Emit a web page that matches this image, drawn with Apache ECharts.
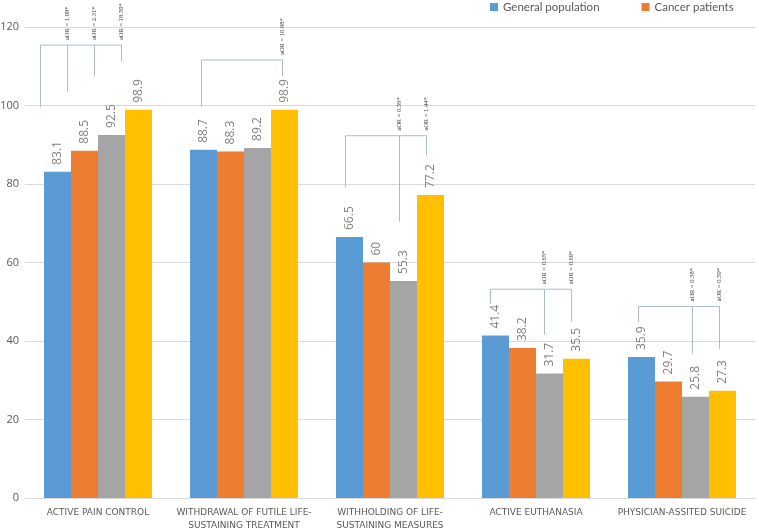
<!DOCTYPE html>
<html>
<head>
<meta charset="utf-8">
<script src="https://cdn.jsdelivr.net/npm/echarts@6/dist/echarts.min.js"></script>
<style>
  html, body { margin: 0; padding: 0; background: #fff; }
  #chart { width: 759px; height: 529px; }
</style>
</head>
<body>
<div id="chart"></div>
<script>
// categories and series
const categories = [
  'ACTIVE PAIN CONTROL',
  'WITHDRAWAL OF FUTILE LIFE-\nSUSTAINING TREATMENT',
  'WITHHOLDING OF LIFE-\nSUSTAINING MEASURES',
  'ACTIVE EUTHANASIA',
  'PHYSICIAN-ASSITED SUICIDE'
]
const seriesNames = ['General population', 'Cancer patients', 'Family caregivers', 'Physicians']
const generalPopulation = [83.1, 88.7, 66.5, 41.4, 35.9]
const cancerPatients = [88.5, 88.3, 60, 38.2, 29.7]
const familyCaregivers = [92.5, 89.2, 55.3, 31.7, 25.8]
const physicians = [98.9, 98.9, 77.2, 35.5, 27.3]
const yTicks = [0, 20, 40, 60, 80, 100, 120]

// aOR brackets: top line level, left end level, compared bars, their end levels, labels
const bracketTop = [115.4, 111.6, 92.3, 53.2, 48.8]
const bracketBase = [99.5, 99.7, 79.2, 49.5, 44.8]
const aorBars = [[1, 2, 3], [3], [2, 3], [2, 3], [2, 3]]
const aorEnds = [[103.5, 107.4, 111.2], [107.5], [70.4, 87.3], [41.6, 45], [36.7, 38]]
const aorText = [
  ['aOR = 1.98*', 'aOR = 2.31*', 'aOR = 18.59*'],
  ['aOR = 10.98*'],
  ['aOR = 0.59*', 'aOR = 1.44*'],
  ['aOR = 0.65*', 'aOR = 0.69*'],
  ['aOR = 0.58*', 'aOR = 0.59*']
]

const colors = ['#5b9bd5', '#ed7d31', '#a5a5a5', '#ffc000']
const barWidth = 27
// hand placed brackets in the original sit a bit left of the bar centres
const bracketShift = [-17, -2, -4, -5, -3]
const bracketColor = '#a9bccd'

const chart = echarts.init(document.getElementById('chart'))

function renderBracket(params, api) {
  const i = params.dataIndex
  const cx = api.coord([i, 0])[0]
  const barX = (k) => cx + (k - 1.5) * barWidth + bracketShift[i]
  const yOf = (v) => api.coord([i, v])[1]
  const topY = yOf(bracketTop[i])
  const x0 = barX(0)
  const bars = aorBars[i]
  const xEnd = barX(bars[bars.length - 1])
  const lineStyle = { stroke: bracketColor, lineWidth: 1 }
  const children = [
    { type: 'line', shape: { x1: x0, y1: topY, x2: xEnd, y2: topY }, style: lineStyle },
    { type: 'line', shape: { x1: x0, y1: topY, x2: x0, y2: yOf(bracketBase[i]) }, style: lineStyle }
  ]
  bars.forEach((k, j) => {
    const x = barX(k)
    children.push({ type: 'line', shape: { x1: x, y1: topY, x2: x, y2: yOf(aorEnds[i][j]) }, style: lineStyle })
    children.push({
      type: 'text',
      x: x,
      y: topY - 5,
      rotation: Math.PI / 2,
      style: {
        text: aorText[i][j],
        align: 'left',
        verticalAlign: 'middle',
        fontFamily: 'Liberation Serif',
        fontSize: 6.5,
        fill: '#333'
      }
    })
  })
  return { type: 'group', children: children }
}

const barSeries = [generalPopulation, cancerPatients, familyCaregivers, physicians].map((vals, k) => ({
  name: seriesNames[k],
  type: 'bar',
  data: vals,
  barWidth: barWidth,
  barGap: '0%',
  itemStyle: { color: colors[k] },
  label: {
    show: true,
    position: 'top',
    rotate: 90,
    align: 'left',
    verticalAlign: 'middle',
    distance: 7,
    color: '#7f7f7f',
    fontSize: 12,
    fontFamily: 'Open Sans'
  }
}))

chart.setOption({
  animation: false,
  color: colors,
  textStyle: { fontFamily: 'Open Sans' },
  legend: {
    data: ['General population', 'Cancer patients'],
    orient: 'horizontal',
    top: 0,
    left: 490,
    width: 269,
    padding: [1, 0, 0, 0],
    icon: 'rect',
    itemWidth: 8,
    itemHeight: 8,
    itemGap: 42,
    textStyle: { color: '#595959', fontSize: 11.5, fontFamily: 'Lato' }
  },
  grid: { left: 25, right: 4, top: 27, bottom: 31, outerBoundsMode: 'none' },
  xAxis: {
    type: 'category',
    data: categories,
    axisTick: { show: false },
    axisLine: { lineStyle: { color: '#d9d9d9' } },
    axisLabel: {
      interval: 0,
      margin: 8,
      fontSize: 9,
      lineHeight: 13,
      color: '#595959',
      fontFamily: 'DejaVu Sans'
    }
  },
  yAxis: {
    type: 'value',
    min: yTicks[0],
    max: yTicks[yTicks.length - 1],
    interval: 20,
    axisLine: { show: false },
    axisTick: { show: false },
    splitLine: { lineStyle: { color: '#d9d9d9' } },
    axisLabel: { color: '#595959', fontSize: 11, margin: 6 }
  },
  series: barSeries.concat([{
    type: 'custom',
    name: 'aOR',
    renderItem: renderBracket,
    data: categories.map((c, i) => [i, bracketTop[i]]),
    silent: true,
    z: 5
  }])
})
</script>
</body>
</html>
